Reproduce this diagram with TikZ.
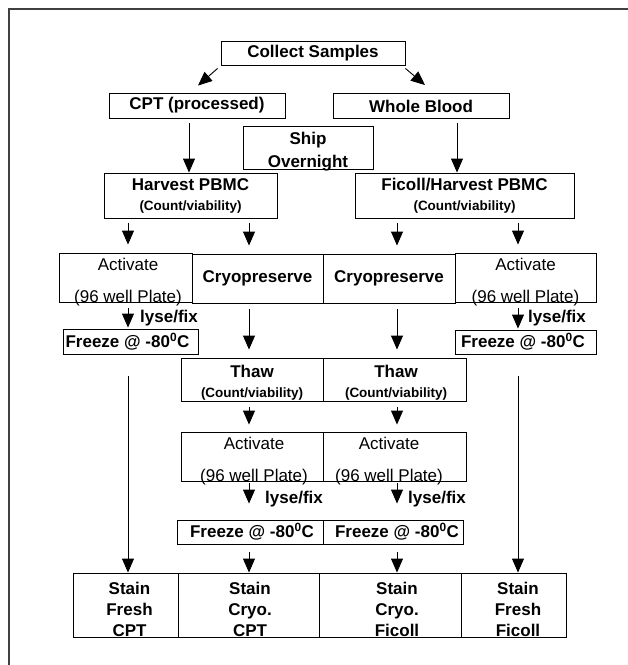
\documentclass[tikz,border=0pt]{standalone}
\usepackage{fontspec}
\setmainfont{Liberation Sans}
\usetikzlibrary{arrows.meta}

\tikzset{
	box/.style={draw, line width=0.9pt, inner sep=0pt, align=center, font=\bfseries\fontsize{17}{21}\selectfont},
	cell/.style={draw, line width=0.9pt, inner sep=0pt},
	celltext/.style 2 args={label={[align=center, inner sep=0pt, font=\bfseries\fontsize{17}{21}\selectfont, #1]center:#2}},
	actbox/.style={draw, line width=0.9pt, inner sep=0pt, minimum height=49pt,
		label={[align=center, inner sep=0pt, yshift=-5pt, font=\fontsize{17}{32}\selectfont, #1]center:Activate\\(96 well Plate)}},
	actbox/.default={},
	arr/.style={line width=0.9pt, -{Triangle[length=14pt, width=12pt]}},
	note/.style={anchor=west, inner sep=0pt, font=\bfseries\fontsize{17}{20}\selectfont}
}
\newcommand{\cntvia}{{\fontsize{13.5}{14}\selectfont (Count/viability)}}
\newcommand{\frz}{Freeze @ -80\textsuperscript{0}C}

\begin{document}
\begin{tikzpicture}[x=1pt, y=-1pt]
	\useasboundingbox (0,0) rectangle (628,665);
	\draw[line width=1.3pt, black!75] (9,665) -- (9,9) -- (628,9);

	\coordinate (c1) at (128,0);
	\coordinate (c2) at (249,0);
	\coordinate (c3) at (397,0);
	\coordinate (c4) at (518,0);
	\coordinate (cl) at (189,0);
	\coordinate (cr) at (457,0);

	\node[box, minimum width=184pt, minimum height=24pt] (collect) at (313,53) {Collect Samples};
	\node[box, minimum width=176pt, minimum height=25pt] (cpt) at (197,105.5) {CPT (processed)};
	\node[box, minimum width=176pt, minimum height=25pt] (wb) at (421,106) {Whole Blood};
	\node[cell, minimum width=130pt, minimum height=43pt, celltext={yshift=-4.5pt}{Ship\\[2pt]Overnight}] (ship) at (308,147.5) {};
	\node[box, minimum width=173pt, minimum height=45pt] (harv) at (190.5,195.5) {Harvest PBMC\\[-1pt]\cntvia};
	\node[box, minimum width=219pt, minimum height=45pt] (ficoll) at (464.5,195.5) {Ficoll/Harvest PBMC\\[-1pt]\cntvia};

	\node[actbox={xshift=2.5pt}, minimum width=133pt] (act1) at (125.5,277.5) {};
	\node[box, minimum width=131pt, minimum height=49pt] (cryo1) at (257.5,278.5) {Cryopreserve};
	\node[box, minimum width=132pt, minimum height=49pt] (cryo2) at (389,278.5) {Cryopreserve};
	\node[actbox, minimum width=141pt] (act2) at (525.5,277.5) {};

	\node[cell, minimum width=135pt, minimum height=25pt, celltext={xshift=-3pt}{\frz}] (frz1) at (130.5,341.5) {};
	\node[cell, minimum width=141pt, minimum height=24pt, celltext={xshift=-2.5pt}{\frz}] (frz2) at (525.5,342) {};
	\node[note] (lf1) at (140,318) {lyse/fix};
	\node[note] (lf2) at (528,318) {lyse/fix};

	\node[cell, minimum width=142pt, minimum height=43pt, celltext={yshift=-3.5pt}{Thaw\\[-1pt]\cntvia}] (thaw1) at (252,379.5) {};
	\node[cell, minimum width=143pt, minimum height=43pt, celltext={yshift=-3.5pt, xshift=1.5pt}{Thaw\\[-1pt]\cntvia}] (thaw2) at (394.5,379.5) {};

	\node[actbox={xshift=2pt}, minimum width=142pt] (act3) at (252,456.5) {};
	\node[actbox={xshift=-5.5pt}, minimum width=143pt] (act4) at (394.5,456.5) {};

	\node[note] (lf3) at (265,499) {lyse/fix};
	\node[note] (lf4) at (408,499) {lyse/fix};
	\node[cell, minimum width=146pt, minimum height=24pt, celltext={xshift=2pt}{\frz}] (frz3) at (250,532) {};
	\node[cell, minimum width=140pt, minimum height=24pt, celltext={xshift=4pt}{\frz}] (frz4) at (393,532) {};

	\node[cell, minimum width=105pt, minimum height=64pt, celltext={xshift=4pt, yshift=-4pt}{Stain\\Fresh\\CPT}] (st1) at (125.5,605) {};
	\node[cell, minimum width=141pt, minimum height=64pt, celltext={xshift=1.5pt, yshift=-4pt}{Stain\\Cryo.\\CPT}] (st2) at (248.5,605) {};
	\node[cell, minimum width=142pt, minimum height=64pt, celltext={xshift=7pt, yshift=-4pt}{Stain\\Cryo.\\Ficoll}] (st3) at (390,605) {};
	\node[cell, minimum width=105pt, minimum height=64pt, celltext={xshift=4.5pt, yshift=-4pt}{Stain\\Fresh\\Ficoll}] (st4) at (513.5,605) {};

	\draw[arr] ([shift={(-3,3)}]collect.south west) -- ([shift={(1,-7)}]cpt.north);
	\draw[arr] ([shift={(0,3)}]collect.south east) -- ([shift={(4,-8)}]wb.north);
	\draw[arr, shorten <=5pt] (cpt.south -| cl) -- (harv.north -| cl);
	\draw[arr, shorten <=4pt] (wb.south -| cr) -- (ficoll.north -| cr);

	\draw[arr, shorten <=5pt, shorten >=8pt] (harv.south -| c1) -- (act1.north -| c1);
	\draw[arr, shorten <=5pt, shorten >=8pt] (harv.south -| c2) -- (cryo1.north -| c2);
	\draw[arr, shorten <=5pt, shorten >=8pt] (ficoll.south -| c3) -- (cryo2.north -| c3);
	\draw[arr, shorten <=5pt, shorten >=8pt] (ficoll.south -| c4) -- (act2.north -| c4);

	\draw[arr, shorten <=6pt, shorten >=1pt] (act1.south -| c1) -- (frz1.north -| c1);
	\draw[arr, shorten <=6pt, shorten >=1pt] (act2.south -| c4) -- (frz2.north -| c4);
	\draw[arr, shorten <=6pt, shorten >=8pt] (cryo1.south -| c2) -- (thaw1.north -| c2);
	\draw[arr, shorten <=6pt, shorten >=8pt] (cryo2.south -| c3) -- (thaw2.north -| c3);

	\draw[arr, shorten <=6pt, shorten >=7pt] (thaw1.south -| c2) -- (act3.north -| c2);
	\draw[arr, shorten <=6pt, shorten >=7pt] (thaw2.south -| c3) -- (act4.north -| c3);
	\draw[arr, shorten <=2pt, shorten >=16pt] (act3.south -| c2) -- (frz3.north -| c2);
	\draw[arr, shorten <=2pt, shorten >=16pt] (act4.south -| c3) -- (frz4.north -| c3);

	\draw[arr, shorten <=22pt] (frz1.south -| c1) -- (st1.north -| c1);
	\draw[arr, shorten <=22pt] (frz2.south -| c4) -- (st4.north -| c4);
	\draw[arr, shorten <=8pt] (frz3.south -| c2) -- (st2.north -| c2);
	\draw[arr, shorten <=8pt] (frz4.south -| c3) -- (st3.north -| c3);
\end{tikzpicture}
\end{document}
